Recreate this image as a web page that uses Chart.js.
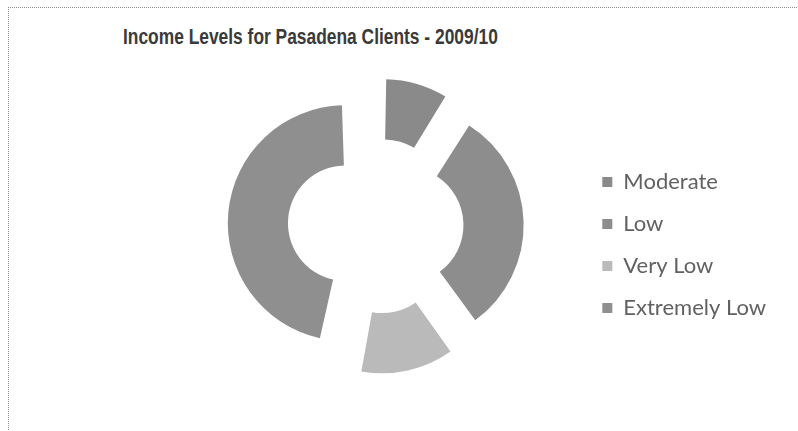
<!DOCTYPE html>
<html>
<head>
<meta charset="utf-8">
<script src="https://cdn.jsdelivr.net/npm/chart.js@4.4.0/dist/chart.umd.min.js"></script>
<style>
  html, body { margin: 0; padding: 0; background: #fff; }
  .frame {
    position: absolute; left: 8px; top: 7px; width: 790px; height: 424px;
    border-left: 1px dotted #8c8c8c; border-top: 1px dotted #8c8c8c;
  }
  .chart-title {
    position: absolute; left: 123px; top: 24px;
    font: bold 22px "Liberation Sans", Arial, sans-serif; color: #3a3a3a;
    white-space: nowrap;
    transform: scaleX(0.79); transform-origin: left top;
  }
  #wrap { position: absolute; left: 0; top: 0; width: 798px; height: 431px; }
</style>
</head>
<body>
<div class="frame"></div>
<div class="chart-title">Income Levels for Pasadena Clients - 2009/10</div>
<div id="wrap"><canvas id="income-chart"></canvas></div>
<script>
// 데이터
const incomeLevels = ["Moderate", "Low", "Very Low", "Extremely Low"];
const clientShares = [9, 31, 13, 47];
const sliceColors = ["#8a8a8a", "#8d8d8d", "#bababa", "#8f8f8f"];

// Chart.js는 작은 조각일수록 offset 만큼 반지름을 키우므로 다시 맞춰준다 (엑셀 분리형 도넛처럼)
const equalRadius = {
  id: "equalRadius",
  afterDatasetUpdate(chart, args) {
    const meta = chart.getDatasetMeta(args.index);
    meta.data.forEach(arc => {
      const off = (arc.options.offset || 0) / 4;
      const fix = 1 - Math.sin(Math.min(Math.PI, arc.circumference));
      arc.outerRadius -= off * fix;
      arc.innerRadius -= off * fix;
    });
  }
};

const ctx = document.getElementById("income-chart").getContext("2d");
const chart = new Chart(ctx, {
  type: "doughnut",
  data: {
    labels: incomeLevels,
    datasets: [{
      data: clientShares,
      backgroundColor: sliceColors,
      borderWidth: 0,
      offset: 120,
      hoverOffset: 0
    }]
  },
  options: {
    responsive: true,
    maintainAspectRatio: false,
    animation: false,
    radius: 118,
    cutout: "49%",
    layout: { padding: { left: 169, right: 22, top: 113, bottom: 92 } },
    plugins: {
      title: { display: false },
      tooltip: { enabled: false },
      legend: {
        position: "right",
        align: "end",
        labels: {
          boxWidth: 10,
          boxHeight: 10,
          padding: 20,
          color: "#616161",
          font: { family: "Lato, 'Open Sans', sans-serif", size: 22 }
        }
      }
    }
  },
  plugins: [equalRadius]
});
</script>
</body>
</html>
